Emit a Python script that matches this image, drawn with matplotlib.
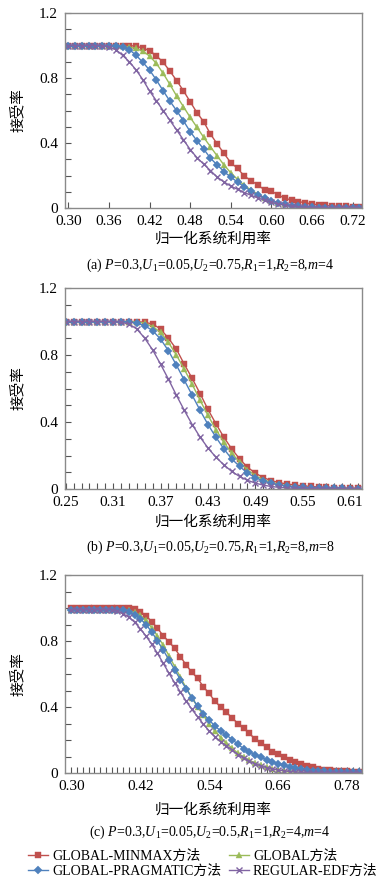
import matplotlib
matplotlib.use("Agg")
import matplotlib.pyplot as plt
from matplotlib.ticker import MultipleLocator, FixedLocator

plt.rcParams['font.family'] = ['Liberation Serif', 'Noto Sans CJK SC']
plt.rcParams['mathtext.fontset'] = 'custom'
plt.rcParams['mathtext.rm'] = 'Liberation Serif'
plt.rcParams['mathtext.it'] = 'Liberation Serif:italic'

# ---- panel (a): x = 0.30 .. 0.73 ----
x_a = [0.30, 0.31, 0.32, 0.33, 0.34, 0.35, 0.36, 0.37, 0.38, 0.39, 0.40, 0.41, 0.42, 0.43, 0.44,
       0.45, 0.46, 0.47, 0.48, 0.49, 0.50, 0.51, 0.52, 0.53, 0.54, 0.55, 0.56, 0.57, 0.58, 0.59,
       0.60, 0.61, 0.62, 0.63, 0.64, 0.65, 0.66, 0.67, 0.68, 0.69, 0.70, 0.71, 0.72, 0.73]
minmax_a = [1.0, 1.0, 1.0, 1.0, 1.0, 1.0, 1.0, 1.0, 1.0, 1.0, 0.995, 0.985, 0.968, 0.937, 0.897,
            0.843, 0.784, 0.722, 0.654, 0.587, 0.531, 0.455, 0.394, 0.336, 0.279, 0.244, 0.197, 0.168, 0.142, 0.111,
            0.105, 0.08, 0.06, 0.049, 0.039, 0.033, 0.025, 0.02, 0.016, 0.012, 0.01, 0.01, 0.008, 0.007]
global_a = [1.0, 1.0, 1.0, 1.0, 1.0, 1.0, 1.0, 1.0, 0.998, 0.99, 0.982, 0.965, 0.935, 0.89, 0.829,
            0.761, 0.689, 0.624, 0.558, 0.497, 0.435, 0.377, 0.32, 0.265, 0.217, 0.176, 0.14, 0.11, 0.085, 0.063,
            0.046, 0.033, 0.022, 0.015, 0.01, 0.007, 0.005, 0.004, 0.003, 0.002, 0.002, 0.001, 0.001, 0.001]
pragmatic_a = [1.0, 1.0, 1.0, 1.0, 1.0, 1.0, 1.0, 0.997, 0.99, 0.975, 0.94, 0.897, 0.849, 0.788, 0.722,
               0.658, 0.599, 0.537, 0.47, 0.414, 0.363, 0.306, 0.265, 0.224, 0.19, 0.16, 0.13, 0.105, 0.08, 0.06,
               0.045, 0.032, 0.022, 0.015, 0.01, 0.007, 0.005, 0.003, 0.002, 0.002, 0.001, 0.001, 0.001, 0.001]
edf_a = [1.0, 1.0, 1.0, 1.0, 1.0, 1.0, 0.99, 0.975, 0.94, 0.9, 0.85, 0.79, 0.72, 0.66, 0.6,
         0.54, 0.48, 0.42, 0.36, 0.31, 0.27, 0.23, 0.19, 0.16, 0.135, 0.115, 0.095, 0.078, 0.062, 0.048,
         0.035, 0.025, 0.016, 0.01, 0.006, 0.004, 0.003, 0.002, 0.001, 0.001, 0.001, 0.001, 0.001, 0.001]

# ---- panel (b): x = 0.25 .. 0.62 ----
x_b = [0.25, 0.26, 0.27, 0.28, 0.29, 0.30, 0.31, 0.32, 0.33, 0.34, 0.35, 0.36, 0.37, 0.38, 0.39,
       0.40, 0.41, 0.42, 0.43, 0.44, 0.45, 0.46, 0.47, 0.48, 0.49, 0.50, 0.51, 0.52, 0.53, 0.54,
       0.55, 0.56, 0.57, 0.58, 0.59, 0.60, 0.61, 0.62]
minmax_b = [1.0, 1.0, 1.0, 1.0, 1.0, 1.0, 1.0, 1.0, 1.0, 1.0, 0.995, 0.985, 0.955, 0.90, 0.835,
            0.745, 0.66, 0.57, 0.475, 0.39, 0.31, 0.24, 0.18, 0.13, 0.095, 0.068, 0.05, 0.038, 0.03, 0.024,
            0.019, 0.015, 0.012, 0.01, 0.008, 0.007, 0.006, 0.006]
global_b = [1.0, 1.0, 1.0, 1.0, 1.0, 1.0, 1.0, 1.0, 1.0, 0.998, 0.99, 0.97, 0.935, 0.875, 0.80,
            0.715, 0.625, 0.53, 0.44, 0.355, 0.28, 0.215, 0.16, 0.115, 0.08, 0.056, 0.04, 0.028, 0.02, 0.014,
            0.01, 0.008, 0.006, 0.005, 0.004, 0.003, 0.003, 0.002]
pragmatic_b = [1.0, 1.0, 1.0, 1.0, 1.0, 1.0, 1.0, 1.0, 0.998, 0.99, 0.975, 0.945, 0.895, 0.825, 0.74,
               0.65, 0.56, 0.47, 0.385, 0.31, 0.24, 0.18, 0.135, 0.095, 0.068, 0.048, 0.034, 0.024, 0.017, 0.012,
               0.009, 0.007, 0.005, 0.004, 0.003, 0.003, 0.002, 0.002]
edf_b = [1.0, 1.0, 1.0, 1.0, 1.0, 1.0, 1.0, 0.995, 0.985, 0.955, 0.90, 0.83, 0.745, 0.655, 0.56,
         0.47, 0.385, 0.31, 0.245, 0.19, 0.145, 0.105, 0.075, 0.052, 0.035, 0.023, 0.015, 0.01, 0.006, 0.004,
         0.003, 0.002, 0.002, 0.001, 0.001, 0.001, 0.001, 0.001]

# ---- panel (c): x = 0.30 .. 0.80 ----
x_c = [0.30, 0.31, 0.32, 0.33, 0.34, 0.35, 0.36, 0.37, 0.38, 0.39, 0.40, 0.41, 0.42, 0.43, 0.44,
       0.45, 0.46, 0.47, 0.48, 0.49, 0.50, 0.51, 0.52, 0.53, 0.54, 0.55, 0.56, 0.57, 0.58, 0.59,
       0.60, 0.61, 0.62, 0.63, 0.64, 0.65, 0.66, 0.67, 0.68, 0.69, 0.70, 0.71, 0.72, 0.73, 0.74,
       0.75, 0.76, 0.77, 0.78, 0.79, 0.80]
minmax_c = [1.0, 1.0, 1.0, 1.0, 1.0, 1.0, 1.0, 1.0, 1.0, 1.0, 1.0, 0.994, 0.978, 0.953, 0.917,
            0.877, 0.832, 0.795, 0.755, 0.705, 0.654, 0.61, 0.573, 0.522, 0.482, 0.435, 0.40, 0.367, 0.334, 0.30,
            0.27, 0.24, 0.205, 0.18, 0.155, 0.13, 0.113, 0.095, 0.078, 0.064, 0.053, 0.042, 0.034, 0.027, 0.021,
            0.017, 0.014, 0.012, 0.01, 0.009, 0.008]
global_c = [0.99, 0.99, 0.99, 0.99, 0.99, 0.99, 0.99, 0.99, 0.99, 0.99, 0.985, 0.975, 0.955, 0.925, 0.88,
            0.83, 0.775, 0.71, 0.645, 0.58, 0.515, 0.455, 0.40, 0.35, 0.30, 0.255, 0.215, 0.18, 0.15, 0.12,
            0.097, 0.077, 0.06, 0.046, 0.035, 0.026, 0.019, 0.014, 0.01, 0.007, 0.005, 0.004, 0.003, 0.003, 0.002,
            0.002, 0.002, 0.001, 0.001, 0.001, 0.001]
pragmatic_c = [0.99, 0.99, 0.99, 0.99, 0.99, 0.99, 0.99, 0.99, 0.99, 0.985, 0.975, 0.96, 0.935, 0.9, 0.855,
               0.80, 0.745, 0.685, 0.625, 0.565, 0.51, 0.455, 0.405, 0.36, 0.32, 0.285, 0.255, 0.23, 0.203, 0.174,
               0.148, 0.128, 0.112, 0.097, 0.081, 0.067, 0.057, 0.047, 0.037, 0.03, 0.024, 0.02, 0.015, 0.012, 0.01,
               0.008, 0.007, 0.006, 0.005, 0.005, 0.004]
edf_c = [0.99, 0.99, 0.99, 0.99, 0.99, 0.99, 0.99, 0.99, 0.98, 0.965, 0.945, 0.915, 0.875, 0.83, 0.78,
         0.725, 0.665, 0.605, 0.545, 0.49, 0.435, 0.385, 0.34, 0.295, 0.255, 0.22, 0.19, 0.165, 0.14, 0.112,
         0.09, 0.07, 0.055, 0.042, 0.032, 0.024, 0.018, 0.013, 0.009, 0.006, 0.004, 0.003, 0.002, 0.002, 0.001,
         0.001, 0.001, 0.001, 0.001, 0.001, 0.001]

labels = ['GLOBAL-MINMAX方法', 'GLOBAL方法', 'GLOBAL-PRAGMATIC方法', 'REGULAR-EDF方法']
xticks_a = [0.30, 0.36, 0.42, 0.48, 0.54, 0.60, 0.66, 0.72]
xticks_b = [0.25, 0.31, 0.37, 0.43, 0.49, 0.55, 0.61]
xticks_c = [0.30, 0.42, 0.54, 0.66, 0.78]
captions = [r'(a) $P$=0.3,$U_1$=0.05,$U_2$=0.75,$R_1$=1,$R_2$=8,$m$=4',
            r'(b) $P$=0.3,$U_1$=0.05,$U_2$=0.75,$R_1$=1,$R_2$=8,$m$=8',
            r'(c) $P$=0.3,$U_1$=0.05,$U_2$=0.5,$R_1$=1,$R_2$=4,$m$=4']

colors = ['#C0504D', '#9BBB59', '#4F81BD', '#8064A2']
markers = ['s', '^', 'D', 'x']
msizes = [4.8, 5.0, 3.6, 5.0]

W, H = 386, 886
fig = plt.figure(figsize=(W / 100, H / 100), dpi=100)

panels = [
    (x_a, [minmax_a, global_a, pragmatic_a, edf_a], xticks_a, (0.295, 0.734), False, 13, 208, 239, 265),
    (x_b, [minmax_b, global_b, pragmatic_b, edf_b], xticks_b, (0.249, 0.625), True, 288, 489, 522, 547),
    (x_c, [minmax_c, global_c, pragmatic_c, edf_c], xticks_c, (0.289, 0.806), True, 575, 773, 810, 832),
]

handles = None
for i, (xs, series, xt, xlim, minor, top, bot, xlab_y, cap_y) in enumerate(panels):
    ax = fig.add_axes([65 / W, 1 - bot / H, 297 / W, (bot - top) / H])
    hs = []
    for ys, c, m, ms in zip(series, colors, markers, msizes):
        h, = ax.plot(xs, ys, color=c, marker=m, markersize=ms, linewidth=1.0,
                     markeredgewidth=1.0 if m == 'x' else 0.3, markeredgecolor=c)
        hs.append(h)
    handles = hs
    ax.set_xlim(*xlim)
    ax.set_ylim(0, 1.2)
    ax.set_xticks(xt)
    ax.set_xticklabels(['%.2f' % v for v in xt])
    ax.set_yticks([0, 0.4, 0.8, 1.2])
    ax.set_yticklabels(['0', '0.4', '0.8', '1.2'])
    ax.yaxis.set_minor_locator(MultipleLocator(0.1))
    if minor:
        ax.xaxis.set_minor_locator(FixedLocator(xs))
    for sp in ax.spines.values():
        sp.set_color('#8a8a8a')
        sp.set_linewidth(1.0)
    ax.tick_params(which='both', direction='in', length=4, width=0.8, color='#555555',
                   labelsize=11)
    ax.tick_params(axis='x', pad=5)
    ax.tick_params(axis='y', pad=5)
    ax.set_ylabel('接受率', fontsize=10.5)
    ax.yaxis.set_label_coords(-(65 - 25) / 297, 0.5)
    fig.text(213 / W, 1 - xlab_y / H, '归一化系统利用率', ha='center', va='center', fontsize=10.5)
    fig.text(210 / W, 1 - cap_y / H, captions[i], ha='center', va='center', fontsize=10)

order = [0, 2, 1, 3]
fig.legend([handles[k] for k in order], [labels[k] for k in order],
           loc='center', bbox_to_anchor=(203 / W, 1 - 864 / H), ncol=2, frameon=False,
           fontsize=10, handlelength=1.4, handletextpad=0.3, columnspacing=0.6,
           labelspacing=0.12, borderpad=0.1)

fig.savefig('out.png', dpi=100)
